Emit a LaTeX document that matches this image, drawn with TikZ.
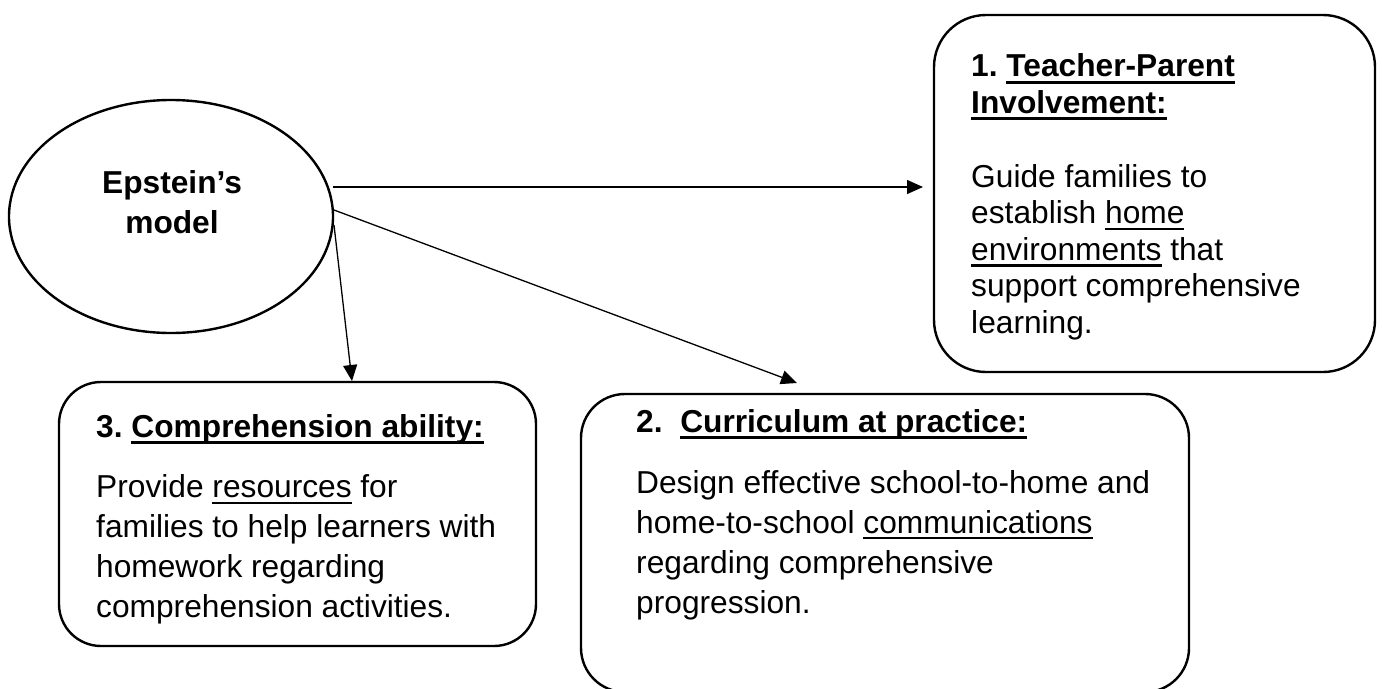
\documentclass[tikz,border=0pt]{standalone}
\usepackage{fontspec}
\setmainfont{Liberation Sans}
\usetikzlibrary{shapes.geometric,arrows.meta}
\newcommand{\myul}[1]{\leavevmode\setbox0=\hbox{#1}\rlap{\rule[-6.3pt]{\wd0}{2.3pt}}\box0\relax}
\newcommand{\myulb}[1]{\leavevmode\setbox0=\hbox{#1}\rlap{\rule[-7pt]{\wd0}{3pt}}\box0\relax}
\newcommand{\txtA}{\fontsize{31.7pt}{40pt}\selectfont\frenchspacing}
\newcommand{\txtB}{\fontsize{31.7pt}{36.6pt}\selectfont\frenchspacing}
\begin{document}
\begin{tikzpicture}[x=1pt,y=-1pt,
  boxshape/.style={draw,line width=2.4pt,inner sep=0pt},
  txt/.style={inner sep=0pt,anchor=base west},
  conn/.style={line width=1.3pt,-{Triangle[length=16pt,width=14pt]}}]
\useasboundingbox (0,0) rectangle (1383,688);
% ellipse
\node[boxshape,ellipse,minimum width=324pt,minimum height=233pt] (ell) at (171,216.5) {};
\node[inner sep=0pt,anchor=base] (elltxt) at (172,193)
  {\parbox[t]{220pt}{\centering\txtA\bfseries Epstein’s\\model}};
% boxes
\node[boxshape,rounded corners=52pt,minimum width=441pt,minimum height=357pt] (box1) at (1154.5,193.5) {};
\node[boxshape,rounded corners=42pt,minimum width=477pt,minimum height=264pt] (box3) at (297.5,514) {};
\node[boxshape,rounded corners=44pt,minimum width=608pt,minimum height=298pt] (box2) at (885,543) {};
% box 1 text
\node[txt] (h1) at (971,76.5)
  {\parbox[t]{400pt}{\raggedright\txtB\bfseries 1. \myulb{Teacher-Parent}\\\myulb{Involvement:}}};
\node[txt] (b1) at (971,187)
  {\parbox[t]{400pt}{\raggedright\txtB Guide families to\\establish \myul{home}\\\myul{environments} that\\support comprehensive\\learning.}};
% box 3 text
\node[txt] (h3) at (96,437)
  {\parbox[t]{440pt}{\raggedright\txtA\bfseries 3. \myulb{Comprehension ability:}}};
\node[txt] (b3) at (96,497.5)
  {\parbox[t]{440pt}{\raggedright\txtA Provide \myul{resources} for\\families to help learners with\\homework regarding\\comprehension activities.}};
% box 2 text
\node[txt] (h2) at (636,432)
  {\parbox[t]{560pt}{\raggedright\txtA\bfseries 2.\ \ \myulb{Curriculum at practice:}}};
\node[txt] (b2) at (636,493)
  {\parbox[t]{560pt}{\raggedright\txtA Design effective school-to-home and\\home-to-school \myul{communications}\\regarding comprehensive\\progression.}};
% connector ends
\coordinate (s1) at (333,187);
\coordinate (t1) at (923,187);
\coordinate (s2) at (334,210);
\coordinate (t2) at (797,383);
\coordinate (s3) at (334,225);
\coordinate (t3) at (352,381);
\draw[conn] (s1) -- (t1);
\draw[conn] (s2) -- (t2);
\draw[conn] (s3) -- (t3);
\end{tikzpicture}
\end{document}
